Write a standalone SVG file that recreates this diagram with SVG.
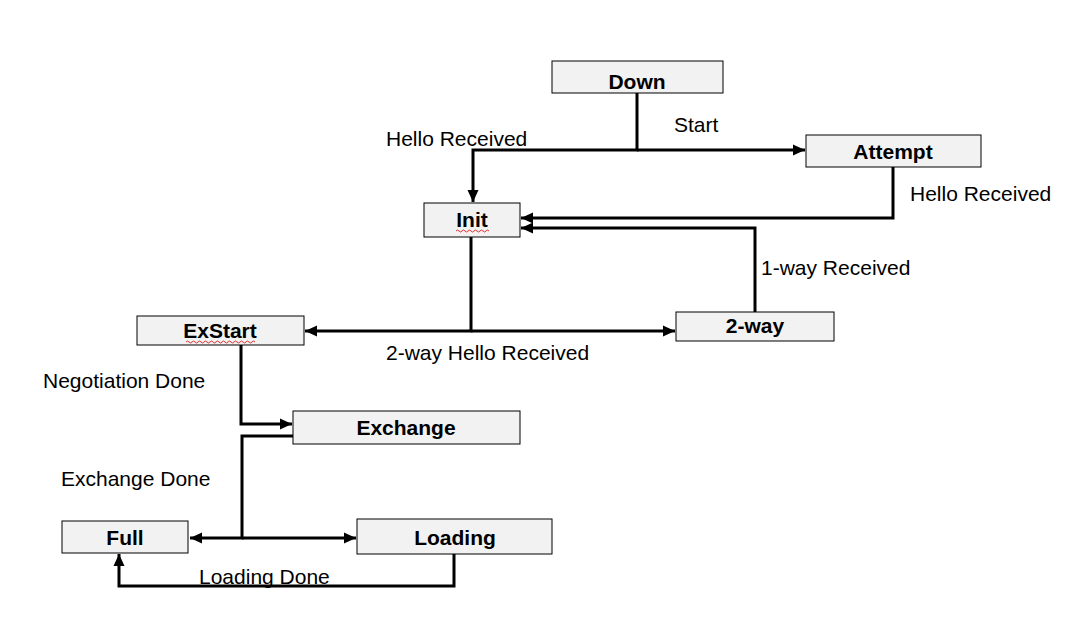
<svg xmlns="http://www.w3.org/2000/svg" width="1075" height="626" viewBox="0 0 1075 626">
<style>
.box{fill:#f2f2f2;stroke:#000;stroke-width:1}
.nt{font-family:"Liberation Sans",Arial,sans-serif;font-weight:bold;font-size:21px;text-anchor:middle;fill:#000}
.lb{font-family:"Liberation Sans",Arial,sans-serif;font-size:21px;fill:#000}
.cn{fill:none;stroke:#000;stroke-width:3}
.sq{fill:none;stroke:#e03030;stroke-width:1}
</style>
<defs>
<marker id="ah" markerUnits="userSpaceOnUse" markerWidth="13" markerHeight="13" refX="12" refY="6.5" orient="auto">
<path d="M0,1 L12,6.5 L0,12 z" fill="#000"/>
</marker>
</defs>
<rect width="1075" height="626" fill="#fff"/>
<g id="connectors">
<path class="cn" d="M637,93 V150 H473 V202" marker-end="url(#ah)"/>
<path class="cn" d="M637,150 H805" marker-end="url(#ah)"/>
<path class="cn" d="M893,167 V218 H521" marker-end="url(#ah)"/>
<path class="cn" d="M755,312 V228 H521" marker-end="url(#ah)"/>
<path class="cn" d="M471,237 V331 H305" marker-end="url(#ah)"/>
<path class="cn" d="M471,331 H675" marker-end="url(#ah)"/>
<path class="cn" d="M241,345 V424 H292" marker-end="url(#ah)"/>
<path class="cn" d="M293,436 H242 V538 H190" marker-end="url(#ah)"/>
<path class="cn" d="M242,538 H356" marker-end="url(#ah)"/>
<path class="cn" d="M454,554 V586 H119 V554" marker-end="url(#ah)"/>
</g>
<g id="labels">
<text class="lb" x="386" y="146">Hello Received</text>
<text class="lb" x="674" y="132">Start</text>
<text class="lb" x="910" y="201">Hello Received</text>
<text class="lb" x="761" y="275">1-way Received</text>
<text class="lb" x="386" y="360">2-way Hello Received</text>
<text class="lb" x="43" y="388">Negotiation Done</text>
<text class="lb" x="61" y="486">Exchange Done</text>
<text class="lb" x="199" y="584">Loading Done</text>
</g>
<g id="node-down">
<rect class="box" x="552" y="61" width="171" height="32"/>
<text class="nt" x="637" y="89">Down</text>
</g>
<g id="node-attempt">
<rect class="box" x="806" y="135" width="175" height="32"/>
<text class="nt" x="893" y="159">Attempt</text>
</g>
<g id="node-init">
<rect class="box" x="424" y="203" width="96" height="34"/>
<text class="nt" x="472" y="227">Init</text>
<path class="sq" d="M456,231 q1.5,-2 3,0 t3,0 t3,0 t3,0 t3,0 t3,0 t3,0 t3,0 t3,0 t3,0 t3,0"/>
</g>
<g id="node-2way">
<rect class="box" x="676" y="312" width="158" height="29"/>
<text class="nt" x="755" y="333">2-way</text>
</g>
<g id="node-exstart">
<rect class="box" x="137" y="316" width="167" height="29"/>
<text class="nt" x="220" y="338">ExStart</text>
<path class="sq" d="M186,342 q1.5,-2 3,0 t3,0 t3,0 t3,0 t3,0 t3,0 t3,0 t3,0 t3,0 t3,0 t3,0 t3,0 t3,0 t3,0 t3,0 t3,0 t3,0 t3,0 t3,0 t3,0 t3,0 t3,0 t3,0"/>
</g>
<g id="node-exchange">
<rect class="box" x="293" y="411" width="227" height="33"/>
<text class="nt" x="406" y="435">Exchange</text>
</g>
<g id="node-full">
<rect class="box" x="62" y="521" width="126" height="32"/>
<text class="nt" x="125" y="545">Full</text>
</g>
<g id="node-loading">
<rect class="box" x="357" y="519" width="195" height="35"/>
<text class="nt" x="455" y="545">Loading</text>
</g>
</svg>
